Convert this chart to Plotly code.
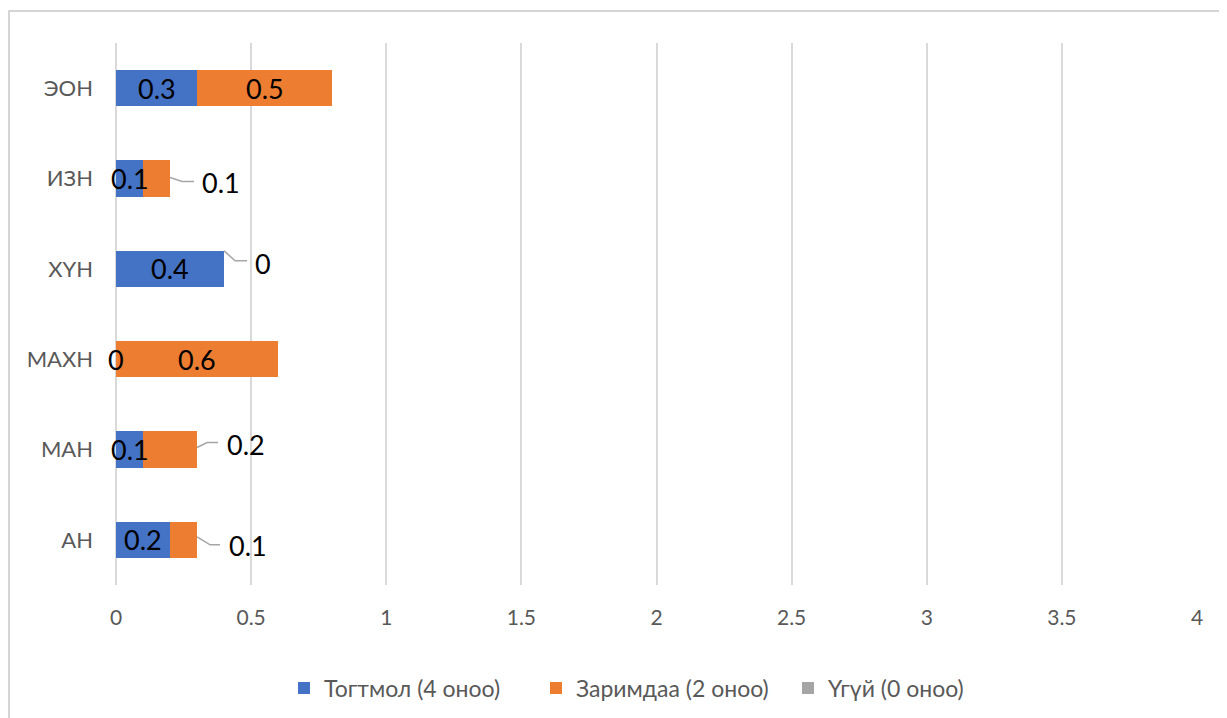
import plotly.graph_objects as go

categories = ["АН", "МАН", "МАХН", "ХҮН", "ИЗН", "ЭОН"]
series_names = ["Тогтмол (4 оноо)", "Заримдаа (2 оноо)", "Үгүй (0 оноо)"]
togtmol = [0.2, 0.1, 0, 0.4, 0.1, 0.3]
zarimdaa = [0.1, 0.2, 0.6, 0, 0.1, 0.5]
ugui = [0, 0, 0, 0, 0, 0]
x_ticks = [0, 0.5, 1, 1.5, 2, 2.5, 3, 3.5, 4]

colors = ["#4472C4", "#ED7D31", "#A5A5A5"]
FONT = "Lato"
LABEL_SIZE = 27
TICK_COLOR = "#595959"

# Callout style for orange labels placed outside the bar: (label dx, dy, leader path)
callouts = {
    "ИЗН": (51, -4, "M0,1 L12,-3 L24,-3"),
    "ХҮН": (39, 5, "M0,18 L11,8 L23,8"),
    "МАН": (49, 5, "M0,2 L10,7 L21,7"),
    "АН": (51, -6, "M0,3 L13,-5 L23,-5"),
}

W, H = 1219, 710
L, T, PW, PH = 108, 35, 1081, 542

fig = go.Figure()
for name, vals, col in zip(series_names, [togtmol, zarimdaa, ugui], colors):
    fig.add_trace(go.Bar(
        y=categories, x=vals, name=name, orientation="h",
        marker=dict(color=col, line=dict(width=0)),
    ))

annotations = []
shapes = []
for i, cat in enumerate(categories):
    b = togtmol[i]
    o = zarimdaa[i]
    annotations.append(dict(x=b / 2, y=cat, xref="x", yref="y", text=str(b),
                            showarrow=False, font=dict(size=LABEL_SIZE, color="black", family=FONT)))
    if cat in callouts:
        dx, dy, path = callouts[cat]
        end = b + o
        annotations.append(dict(x=end, y=cat, xref="x", yref="y", text=str(o),
                                showarrow=False, xshift=dx, yshift=dy,
                                font=dict(size=LABEL_SIZE, color="black", family=FONT)))
        shapes.append(dict(type="path", xref="x", yref="y", xsizemode="pixel", ysizemode="pixel",
                           xanchor=end, yanchor=cat, path=path,
                           line=dict(color="#A6A6A6", width=1.5)))
    else:
        annotations.append(dict(x=b + o / 2, y=cat, xref="x", yref="y", text=str(o),
                                showarrow=False, font=dict(size=LABEL_SIZE, color="black", family=FONT)))

# outer chart border (left and top edges visible)
shapes.append(dict(type="rect", xref="paper", yref="paper",
                   x0=(-L + 1) / PW, x1=(W - L + 30) / PW,
                   y0=-(H - T - PH + 30) / PH, y1=1 + (T - 3) / PH,
                   line=dict(color="#C8C8C8", width=1.5), layer="below"))

fig.update_layout(
    barmode="stack",
    bargap=0.6,
    width=W, height=H,
    margin=dict(l=L, r=W - L - PW, t=T, b=H - T - PH, autoexpand=False),
    paper_bgcolor="white", plot_bgcolor="white",
    font=dict(family=FONT, color=TICK_COLOR, size=22),
    xaxis=dict(range=[0, 4], tickvals=x_ticks, ticktext=[f"{v:g}" for v in x_ticks],
               showgrid=True, gridcolor="#D9D9D9", gridwidth=1.5,
               zeroline=True, zerolinecolor="#D9D9D9", zerolinewidth=1.5,
               showline=False, ticks="", ticklabelstandoff=18, automargin=False,
               tickfont=dict(size=21, color=TICK_COLOR), fixedrange=True),
    yaxis=dict(type="category", categoryorder="array", categoryarray=categories,
               showgrid=False, zeroline=False, showline=False, ticks="", automargin=False,
               ticklabelstandoff=22, tickfont=dict(size=22, color=TICK_COLOR)),
    legend=dict(orientation="h", x=0.1554, xanchor="left", y=-0.19, yanchor="middle",
                font=dict(size=23, color=TICK_COLOR), itemwidth=30, traceorder="normal",
                entrywidth=207, entrywidthmode="pixels"),
    annotations=annotations,
    shapes=shapes,
    showlegend=True,
)

fig.write_html("out.html")
